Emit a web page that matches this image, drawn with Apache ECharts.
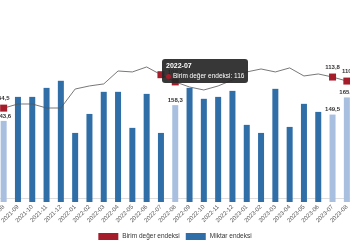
<!DOCTYPE html>
<html><head><meta charset="utf-8">
<script src="https://cdn.jsdelivr.net/npm/echarts@6/dist/echarts.min.js"></script>
<style>html,body{margin:0;padding:0;background:#fff}#c{width:350px;height:250px}</style>
</head><body><div id="c"></div>
<script>
const categories = ['2021-08','2021-09','2021-10','2021-11','2021-12','2022-01','2022-02','2022-03','2022-04','2022-05','2022-06','2022-07','2022-08','2022-09','2022-10','2022-11','2022-12','2023-01','2023-02','2023-03','2023-04','2023-05','2023-06','2023-07','2023-08'];
const miktarEndeksi = [143.6,166.0,166.0,174.4,181.0,132.4,150.1,170.7,170.7,137.1,168.8,132.4,158.3,174.4,164.2,166.0,171.6,139.9,132.4,173.5,138.0,159.5,152.0,149.5,165.5];
const birimDegerEndeksi = [84.5,88.4,88.4,84.6,84.6,102.5,105.4,107.3,119.5,118.6,123.3,116,109.2,104.4,101.6,105.4,111.0,118.6,121.4,118.6,122.4,114.8,116.7,113.8,110];
const highlightIdx = [0,12,23,24];
const tooltipIdx = 11;

const fmt = v => String(v).replace('.', ',');
const chart = echarts.init(document.getElementById('c'));
const RED = '#a51d2b', BLUE = '#2f6ea6', LIGHT = '#a8bfe0';
chart.setOption({
  animation: false,
  grid: {left: -3.5, right: -4, top: 10, bottom: 48, containLabel: false, outerBoundsMode: 'none'},
  tooltip: {
    trigger: 'item', renderMode: 'html', confine: false,
    backgroundColor: 'rgba(38,38,38,0.92)', borderWidth: 0, padding: [2,4],
    extraCssText: 'box-shadow:none;border-radius:3px;',
    textStyle: {color: '#fff', fontSize: 7, fontFamily: 'Liberation Sans'},
    position: (point, params) => {
      const c = chart.convertToPixel({seriesIndex: 1}, [params.dataIndex, params.value]);
      return [c[0] + 1, c[1] - 16];
    },
    formatter: p => '<div style="font-size:7px;line-height:10px;font-weight:bold;color:#fff;font-family:Liberation Sans">' + p.name + '</div>' +
      '<div style="font-size:6.5px;line-height:10px;color:#fff;font-family:Liberation Sans"><span style="display:inline-block;width:5px;height:5px;border-radius:3px;background:' + RED + ';margin-right:2px;vertical-align:middle"></span>' + p.seriesName + ': ' + p.value + '</div>'
  },
  legend: {
    bottom: 5, left: 'center', itemWidth: 20, itemHeight: 7, itemGap: 6, icon: 'rect',
    textStyle: {fontSize: 6.5, color: '#333', fontFamily: 'Liberation Sans', padding: [0,0,0,-1]},
    data: [{name: 'Birim değer endeksi', itemStyle: {color: RED}}, {name: 'Miktar endeksi', itemStyle: {color: BLUE}}]
  },
  xAxis: {
    type: 'category', data: categories,
    axisLine: {lineStyle: {color: '#ddd'}}, axisTick: {show: false},
    axisLabel: {rotate: 45, fontSize: 6, color: '#555', interval: 0, margin: 4, fontFamily: 'Liberation Sans'}
  },
  yAxis: [
    {type: 'value', min: 68, max: 247, show: false, splitLine: {show: false}},
    {type: 'value', min: -4, max: 177, show: false, splitLine: {show: false}}
  ],
  series: [
    {
      name: 'Miktar endeksi', type: 'bar', yAxisIndex: 0, barWidth: 6, z: 1,
      itemStyle: {color: BLUE},
      data: miktarEndeksi.map((v, i) => highlightIdx.includes(i) ? {
        value: v, itemStyle: {color: LIGHT},
        label: {show: true, position: 'top', distance: 2, fontSize: 6, fontWeight: 'bold', color: '#333', formatter: p => fmt(p.value)}
      } : v)
    },
    {
      name: 'Birim değer endeksi', type: 'line', yAxisIndex: 1, z: 3,
      showSymbol: true, symbol: 'rect', symbolSize: 0,
      lineStyle: {color: '#555', width: 0.8},
      itemStyle: {color: RED},
      emphasis: {scale: false},
      data: birimDegerEndeksi.map((v, i) => highlightIdx.includes(i) ? {
        value: v, symbolSize: 7,
        label: {show: true, position: 'top', distance: 3, fontSize: 6, fontWeight: 'bold', color: '#333', formatter: p => fmt(p.value)}
      } : (i === tooltipIdx ? {value: v, symbolSize: 7} : {value: v, symbolSize: 0}))
    }
  ]
});
chart.dispatchAction({type: 'showTip', seriesIndex: 1, dataIndex: tooltipIdx});
</script></body></html>
